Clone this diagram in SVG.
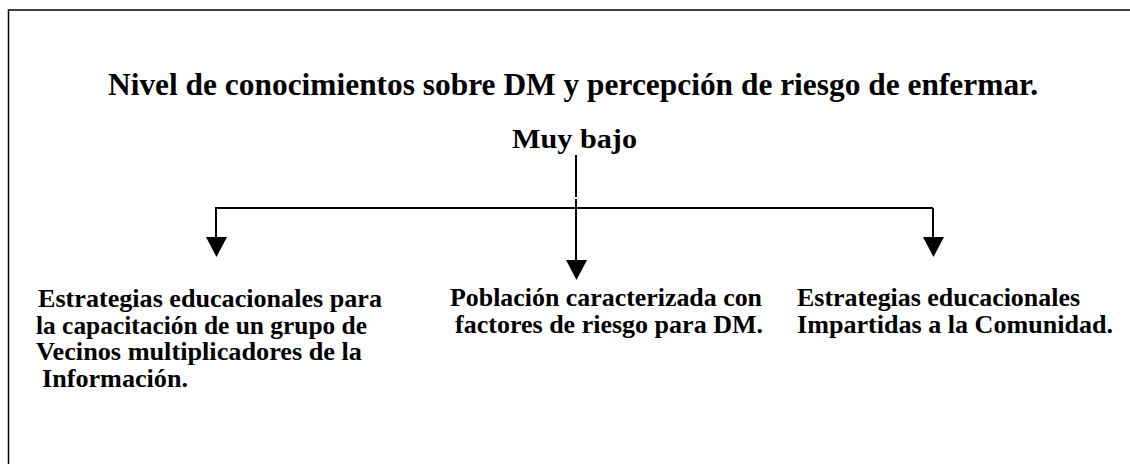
<svg xmlns="http://www.w3.org/2000/svg" width="1130" height="464" viewBox="0 0 1130 464">
<style>
text{font-family:"Liberation Serif","Times New Roman",serif;font-weight:bold;fill:#000}
.title{font-size:31px}
.sub{font-size:28px}
.lbl{font-size:24.5px}
.ln{stroke:#000;stroke-width:2;fill:none}
</style>
<rect width="1130" height="464" fill="#fff"/>
<path d="M8.5,464 L8.5,10 L1130,10" stroke="#000" stroke-width="1.5" fill="none"/>
<g id="title"><text class="title" x="108" y="95" textLength="930" lengthAdjust="spacingAndGlyphs">Nivel de conocimientos sobre DM y percepción de riesgo de enfermar.</text></g>
<g id="muy-bajo"><text class="sub" x="512" y="148" textLength="125" lengthAdjust="spacingAndGlyphs">Muy bajo</text></g>
<g id="connectors">
<line class="ln" x1="576" y1="155" x2="576" y2="197"/>
<line class="ln" x1="215" y1="208" x2="933" y2="208"/>
<line class="ln" x1="576" y1="199" x2="576" y2="260"/>
<path d="M566,260 L587,260 L576.5,280 Z" fill="#000"/>
<line class="ln" x1="216" y1="208" x2="216" y2="238"/>
<path d="M206,237 L227,237 L216.5,257 Z" fill="#000"/>
<line class="ln" x1="933" y1="208" x2="933" y2="238"/>
<path d="M923,237 L944,237 L933.5,257 Z" fill="#000"/>
</g>
<g id="node-left">
<text class="lbl" x="38" y="307" textLength="344" lengthAdjust="spacingAndGlyphs">Estrategias educacionales para</text>
<text class="lbl" x="36" y="334" textLength="331" lengthAdjust="spacingAndGlyphs">la capacitación de un grupo de</text>
<text class="lbl" x="36" y="360" textLength="326" lengthAdjust="spacingAndGlyphs">Vecinos multiplicadores de la</text>
<text class="lbl" x="42" y="387" textLength="146" lengthAdjust="spacingAndGlyphs">Información.</text>
</g>
<g id="node-middle">
<text class="lbl" x="450" y="306" textLength="312" lengthAdjust="spacingAndGlyphs">Población caracterizada con</text>
<text class="lbl" x="455" y="333" textLength="308" lengthAdjust="spacingAndGlyphs">factores de riesgo para DM.</text>
</g>
<g id="node-right">
<text class="lbl" x="797" y="306" textLength="283" lengthAdjust="spacingAndGlyphs">Estrategias educacionales</text>
<text class="lbl" x="797" y="333" textLength="316" lengthAdjust="spacingAndGlyphs">Impartidas a la Comunidad.</text>
</g>
</svg>
